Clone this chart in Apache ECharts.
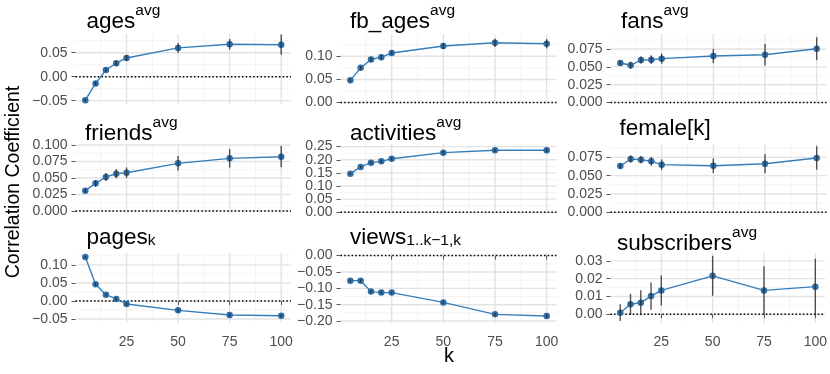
<!DOCTYPE html>
<html>
<head>
<meta charset="utf-8">
<script src="https://cdn.jsdelivr.net/npm/echarts@6/dist/echarts.min.js"></script>
<style>
html, body { margin: 0; padding: 0; background: #fff; }
#chart { width: 830px; height: 374px; }
</style>
</head>
<body>
<div id="chart"></div>
<script>
// k on the x axis
const kValues = [5, 10, 15, 20, 25, 50, 75, 100]
const xTicks = [25, 50, 75, 100]
const xMinor = [12.5, 37.5, 62.5, 87.5]

// correlation coefficient and error bar half width, one pair per panel
const agesMean = [-0.049, -0.014, 0.014, 0.028, 0.039, 0.060, 0.0675, 0.0667]
const agesErr = [0.003, 0.004, 0.004, 0.005, 0.006, 0.010, 0.011, 0.021]
const agesTicks = [-0.05, 0, 0.05]

const fbAgesMean = [0.048, 0.075, 0.093, 0.098, 0.107, 0.122, 0.129, 0.127]
const fbAgesErr = [0.003, 0.004, 0.005, 0.005, 0.005, 0.006, 0.009, 0.010]
const fbAgesTicks = [0, 0.05, 0.10]

const fansMean = [0.0554, 0.0522, 0.0596, 0.0600, 0.0615, 0.0652, 0.0670, 0.0754]
const fansErr = [0.003, 0.005, 0.005, 0.006, 0.007, 0.010, 0.015, 0.016]
const fansTicks = [0, 0.025, 0.05, 0.075]

const friendsMean = [0.0308, 0.042, 0.0515, 0.0566, 0.058, 0.0722, 0.0798, 0.0823]
const friendsErr = [0.003, 0.005, 0.006, 0.007, 0.008, 0.011, 0.014, 0.016]
const friendsTicks = [0, 0.025, 0.05, 0.075, 0.1]

const activitiesMean = [0.147, 0.1726, 0.189, 0.194, 0.204, 0.227, 0.236, 0.236]
const activitiesErr = [0.004, 0.005, 0.005, 0.005, 0.006, 0.006, 0.006, 0.007]
const activitiesTicks = [0, 0.05, 0.10, 0.15, 0.20, 0.25]

const femaleMean = [0.0632, 0.0727, 0.0718, 0.0696, 0.065, 0.0636, 0.0663, 0.0741]
const femaleErr = [0.003, 0.005, 0.005, 0.006, 0.007, 0.010, 0.013, 0.016]
const femaleTicks = [0, 0.025, 0.05, 0.075]

const pagesMean = [0.122, 0.0463, 0.0176, 0.0056, -0.0083, -0.026, -0.039, -0.041]
const pagesErr = [0.003, 0.004, 0.004, 0.004, 0.004, 0.004, 0.004, 0.004]
const pagesTicks = [-0.05, 0, 0.05, 0.10]

const viewsMean = [-0.0766, -0.0766, -0.110, -0.113, -0.113, -0.143, -0.1795, -0.1847]
const viewsErr = [0.003, 0.004, 0.004, 0.004, 0.004, 0.004, 0.005, 0.005]
const viewsTicks = [-0.20, -0.15, -0.10, -0.05, 0]

const subscribersMean = [0.0009, 0.0056, 0.0065, 0.0102, 0.0134, 0.0216, 0.0134, 0.0155]
const subscribersErr = [0.0047, 0.0059, 0.007, 0.0077, 0.0084, 0.0112, 0.0135, 0.0157]
const subscribersTicks = [0, 0.01, 0.02, 0.03]

const FONT = 'Liberation Sans, Arial, sans-serif'

// panel order: row by row
const panels = [
    { title: '{m|ages}{sup|avg}', tx: 86.5, ty: 3, mean: agesMean, err: agesErr, ticks: agesTicks, dec: 2, min: -0.057, max: 0.089 },
    { title: '{m|fb_ages}{sup|avg}', tx: 350, ty: 3, mean: fbAgesMean, err: fbAgesErr, ticks: fbAgesTicks, dec: 2, min: -0.003, max: 0.148 },
    { title: '{m|fans}{sup|avg}', tx: 621, ty: 3, mean: fansMean, err: fansErr, ticks: fansTicks, dec: 3, min: -0.002, max: 0.096 },
    { title: '{m|friends}{sup|avg}', tx: 85, ty: 115, mean: friendsMean, err: friendsErr, ticks: friendsTicks, dec: 3, min: -0.0045, max: 0.1015 },
    { title: '{m|activities}{sup|avg}', tx: 350, ty: 115, mean: activitiesMean, err: activitiesErr, ticks: activitiesTicks, dec: 2, min: -0.0065, max: 0.26, split: true },
    { title: '{m|female[k]}', tx: 619.5, ty: 110.5, mean: femaleMean, err: femaleErr, ticks: femaleTicks, dec: 3, min: -0.0023, max: 0.0932 },
    { title: '{m|pages}{sub|k}', tx: 86.5, ty: 219, mean: pagesMean, err: pagesErr, ticks: pagesTicks, dec: 2, min: -0.061, max: 0.133 },
    { title: '{m|views}{sub|1..k\u22121,k}', tx: 350, ty: 219, mean: viewsMean, err: viewsErr, ticks: viewsTicks, dec: 2, min: -0.206, max: 0.008 },
    { title: '{m|subscribers}{sup|avg}', tx: 617, ty: 225, mean: subscribersMean, err: subscribersErr, ticks: subscribersTicks, dec: 2, min: -0.0049, max: 0.0344 },
]

const colLeft = [75.5, 340.5, 610.5]
const colWidth = [215.5, 216, 216]
const rowTop = [34, 144, 253]
const rowHeight = 70

const fmt = (v, d) => v.toFixed(d).replace('-', '\u2212')

// gridline values: [value, orientation 0=h 1=v, kind 0=minor 1=major 2=zero]
const gridData = (p) => {
    const out = []
    const step = p.ticks[1] - p.ticks[0]
    p.ticks.forEach(t => out.push([t, 0, 1]))
    const first = p.ticks[0] - step / 2
    for (let i = 0; i <= p.ticks.length; i++) {
        const m = first + i * step
        if (m > p.min && m < p.max) out.push([m, 0, 0])
    }
    xTicks.forEach(t => out.push([t, 1, 1]))
    xMinor.forEach(t => out.push([t, 1, 0]))
    out.push([0, 0, 2])
    return out
}

const grids = []
const xAxes = []
const yAxes = []
const series = []
const titles = []
const overlays = []

const textStyle = { fontWeight: 'normal', color: '#000', fontFamily: FONT }

const yLabel = (p, values) => ({
    customValues: values, fontSize: 14, color: '#4d4d4d', fontFamily: FONT, margin: 8,
    showMinLabel: true, showMaxLabel: true,
    formatter: v => fmt(v, p.dec),
})

panels.forEach((p, i) => {
    const row = Math.floor(i / 3)
    const col = i % 3
    const bottomRow = row === 2
    const rect = { left: colLeft[col], top: rowTop[row], width: colWidth[col], height: rowHeight }
    grids.push(rect)
    xAxes.push({
        type: 'value', gridIndex: i, min: 0.25, max: 104.75,
        axisLine: { show: false },
        splitLine: { show: false },
        axisTick: { show: bottomRow, customValues: xTicks, length: 4, lineStyle: { color: '#555', width: 1 } },
        axisLabel: { show: bottomRow, customValues: xTicks, fontSize: 14, color: '#4d4d4d', fontFamily: FONT, margin: 12, showMinLabel: true, showMaxLabel: true },
    })
    // tightly packed labels are split over two stacked axes so none gets hidden
    const mainLabels = p.split ? p.ticks.filter((t, j) => j % 2 === 0) : p.ticks
    yAxes.push({
        type: 'value', gridIndex: i, min: p.min, max: p.max,
        axisLine: { show: false },
        splitLine: { show: false },
        axisTick: { show: true, customValues: p.ticks, length: 4, lineStyle: { color: '#555', width: 1 } },
        axisLabel: yLabel(p, mainLabels),
    })
    if (p.split) overlays.push({ p, rect, labels: p.ticks.filter((t, j) => j % 2 === 1) })
    titles.push({
        text: p.title, left: p.tx, top: p.ty, padding: 0,
        textStyle: {
            fontWeight: 'normal',
            rich: {
                m: Object.assign({ fontSize: 22.5, lineHeight: 30, verticalAlign: 'bottom' }, textStyle),
                sup: Object.assign({ fontSize: 15.5, lineHeight: 12, verticalAlign: 'top' }, textStyle),
                sub: Object.assign({ fontSize: 15.5, lineHeight: 15, verticalAlign: 'bottom' }, textStyle),
            },
        },
    })
    // gridlines and zero line
    series.push({
        type: 'custom', xAxisIndex: i, yAxisIndex: i, silent: true, z: 0,
        data: gridData(p),
        renderItem: (params, api) => {
            const cs = params.coordSys
            const v = api.value(0)
            const kind = api.value(2)
            let shape
            if (api.value(1) === 0) {
                const y = api.coord([50, v])[1]
                shape = { x1: cs.x, y1: y, x2: cs.x + cs.width, y2: y }
            } else {
                const x = api.coord([v, 0])[0]
                shape = { x1: x, y1: cs.y, x2: x, y2: cs.y + cs.height }
            }
            const style = kind === 2
                ? { stroke: '#000', lineWidth: 1.5, lineDash: [1.5, 2.2] }
                : kind === 1
                    ? { stroke: '#e3e3e3', lineWidth: 1.4 }
                    : { stroke: '#efefef', lineWidth: 0.7 }
            return { type: 'line', shape, style, z2: kind }
        },
    })
    series.push({
        type: 'line', xAxisIndex: i, yAxisIndex: i, z: 3,
        data: kValues.map((k, j) => [k, p.mean[j]]),
        symbol: 'circle', symbolSize: 6.5,
        lineStyle: { color: '#377eb8', width: 1.4 },
        itemStyle: { color: '#2f6ea6' },
        animation: false,
    })
    series.push({
        type: 'custom', xAxisIndex: i, yAxisIndex: i, z: 4,
        data: kValues.map((k, j) => [k, p.mean[j] - p.err[j], p.mean[j] + p.err[j]]),
        encode: { x: 0, y: [1, 2] },
        renderItem: (params, api) => {
            const lo = api.coord([api.value(0), api.value(1)])
            const hi = api.coord([api.value(0), api.value(2)])
            return {
                type: 'line',
                shape: { x1: lo[0], y1: lo[1], x2: hi[0], y2: hi[1] },
                style: { stroke: 'rgba(40,40,40,0.8)', lineWidth: 1.4 },
            }
        },
    })
})

// overlay grids carrying the remaining labels
overlays.forEach(o => {
    const g = grids.length
    grids.push(Object.assign({}, o.rect))
    xAxes.push({ type: 'value', gridIndex: g, min: 0.25, max: 104.75, show: false })
    yAxes.push({
        type: 'value', gridIndex: g, min: o.p.min, max: o.p.max,
        axisLine: { show: false },
        splitLine: { show: false },
        axisTick: { show: false },
        axisLabel: yLabel(o.p, o.labels),
    })
})

const chart = echarts.init(document.getElementById('chart'))
chart.setOption({
    animation: false,
    backgroundColor: '#fff',
    title: titles,
    grid: grids,
    xAxis: xAxes,
    yAxis: yAxes,
    series: series,
    graphic: [
        {
            type: 'text', x: 14, y: 182, rotation: Math.PI / 2,
            style: { text: 'Correlation Coefficient', fontSize: 19.5, fill: '#000', fontFamily: FONT, align: 'center', verticalAlign: 'middle' },
        },
        {
            type: 'text', x: 449, y: 356,
            style: { text: 'k', fontSize: 20, fill: '#000', fontFamily: FONT, align: 'center', verticalAlign: 'middle' },
        },
    ],
})
</script>
</body>
</html>
